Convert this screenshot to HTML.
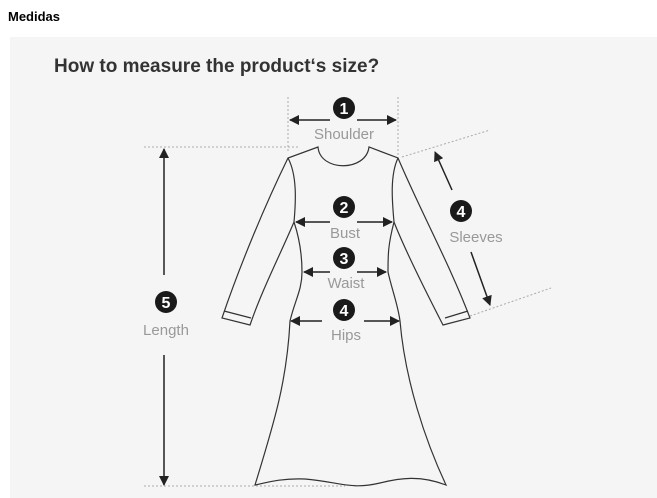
<!DOCTYPE html>
<html><head><style>
body{margin:0;width:657px;height:498px;background:#fff;overflow:hidden;font-family:"Liberation Sans",sans-serif}
</style></head><body>
<svg width="657" height="498" xmlns="http://www.w3.org/2000/svg" style="position:absolute;left:0;top:0">
<defs><marker id="a" markerWidth="10" markerHeight="10" refX="9" refY="5" orient="auto" markerUnits="userSpaceOnUse"><path d="M0,0 L10,5 L0,10z" fill="#222"/></marker></defs>
<text x="8" y="21" font-size="13" font-weight="bold" fill="#000">Medidas</text>
<rect x="10" y="37" width="647" height="461" fill="#f5f5f5"/>
<text x="54" y="72" font-size="19" font-weight="bold" fill="#333">How to measure the product‘s size?</text>
<g stroke="#aaa" stroke-dasharray="2,2" stroke-width="1" fill="none">
<line x1="288" y1="97" x2="288" y2="152"/><line x1="398" y1="97" x2="398" y2="155"/>
<line x1="144" y1="147" x2="300" y2="147"/><line x1="144" y1="486" x2="345" y2="486"/>
<line x1="402" y1="157" x2="490" y2="130"/><line x1="470" y1="316" x2="551" y2="288"/>
</g>
<g stroke="#333" stroke-width="1.2" fill="none">
<path d="M318,147 C320,172 366,172 369,147 L398,158 C420,210 450,265 470,318 L443,325 C425,290 405,250 394,222 C388,245 388,255 388,272 C392,290 398,305 400,321 C405,380 425,440 446,485 C420,475 400,478 380,483 C350,490 340,482 305,479 C280,478 265,483 255,485 C275,420 287,380 290,321 C295,300 302,290 302,272 C302,255 300,240 294,222 C280,255 262,290 250,325 L222,318 C240,265 265,205 288,158 Z"/>
<path d="M288,158 C297,175 296,200 294,222"/><path d="M398,158 C390,175 392,200 394,222"/>
<line x1="224" y1="311" x2="251" y2="318"/><line x1="468" y1="311" x2="445" y2="318"/>
</g>
<g stroke="#222" stroke-width="1.5" marker-end="url(#a)">
<line x1="330" y1="120" x2="290" y2="120"/><line x1="357" y1="120" x2="396" y2="120"/>
<line x1="330" y1="222" x2="296" y2="222"/><line x1="357" y1="222" x2="392" y2="222"/>
<line x1="330" y1="272" x2="304" y2="272"/><line x1="357" y1="272" x2="386" y2="272"/>
<line x1="322" y1="321" x2="291" y2="321"/><line x1="364" y1="321" x2="399" y2="321"/>
<line x1="164" y1="275" x2="164" y2="149"/><line x1="164" y1="355" x2="164" y2="485"/>
<line x1="452" y1="190" x2="435" y2="152"/><line x1="471" y1="252" x2="490" y2="305"/>
</g>
<g fill="#1a1a1a"><circle cx="344" cy="108" r="11"/><circle cx="344" cy="207" r="11"/><circle cx="344" cy="258" r="11"/><circle cx="344" cy="310" r="11"/><circle cx="166" cy="302" r="11"/><circle cx="461" cy="211" r="11"/></g>
<g fill="#fff" font-size="16" font-weight="bold" text-anchor="middle">
<text x="344" y="114">1</text><text x="344" y="213">2</text><text x="344" y="264">3</text><text x="344" y="316">4</text><text x="166" y="308">5</text><text x="461" y="217">4</text></g>
<g fill="#999" font-size="15" text-anchor="middle">
<text x="344" y="139">Shoulder</text><text x="345" y="238">Bust</text><text x="346" y="288">Waist</text><text x="346" y="340">Hips</text><text x="166" y="335">Length</text><text x="476" y="242">Sleeves</text></g>
</svg>
</body></html>
